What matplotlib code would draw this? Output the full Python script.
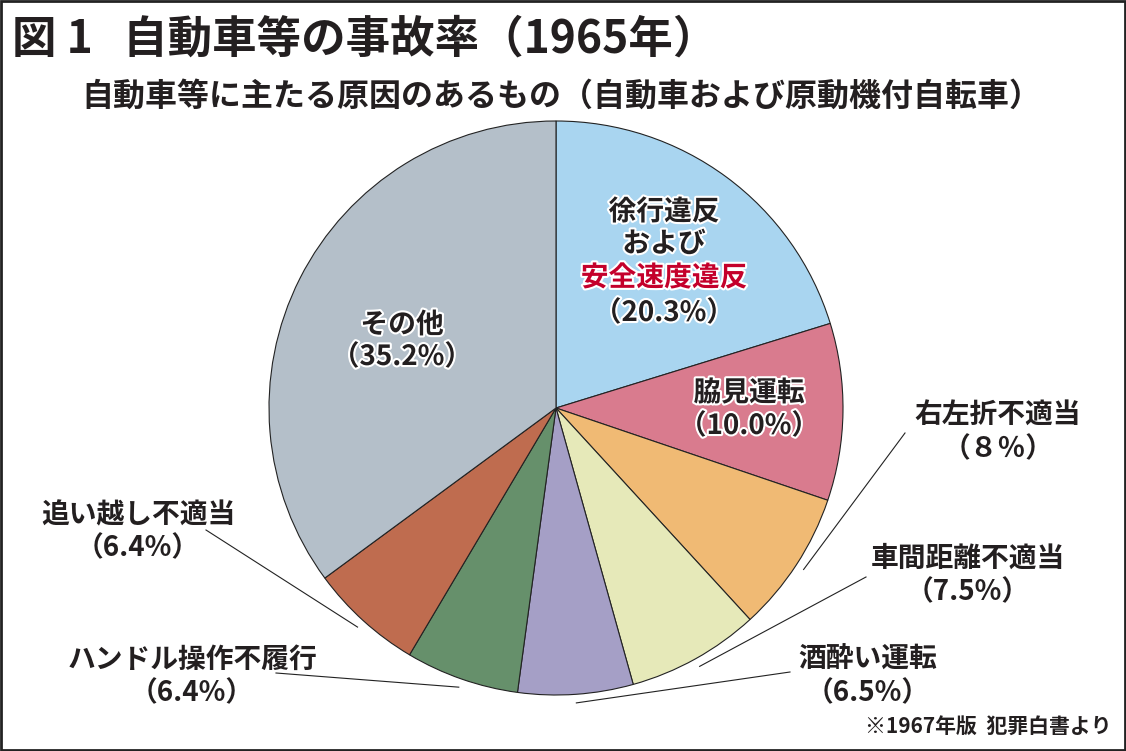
import numpy as np
import matplotlib
matplotlib.use("Agg")
import matplotlib.pyplot as plt
import matplotlib.patheffects as pe
from matplotlib.patches import Rectangle

plt.rcParams['font.family'] = ['Noto Sans CJK JP', 'DejaVu Sans']

# data (clockwise from 12 o'clock)
causes = ["徐行違反および安全速度違反", "脇見運転", "右左折不適当", "車間距離不適当",
          "酒酔い運転", "ハンドル操作不履行", "追い越し不適当", "その他"]
shares = [20.3, 10.0, 8, 7.5, 6.5, 6.4, 6.4, 35.2]
share_text = ["（20.3%）", "（10.0%）", "（８％）", "（7.5%）",
              "（6.5%）", "（6.4%）", "（6.4%）", "（35.2%）"]
colors = ["#a9d5f0", "#d97b8e", "#f0ba74", "#e6e9b9",
          "#a59fc6", "#66906b", "#bf6c4f", "#b4bfc9"]

W, H = 1126, 751
fig = plt.figure(figsize=(W / 100, H / 100), dpi=100)
ax = fig.add_axes([0, 0, 1, 1])

cx, cy, r = 556, H - 408, 287
wedges, _ = ax.pie(shares, colors=colors, startangle=90, counterclock=False,
                   center=(cx, cy), radius=r, frame=True,
                   wedgeprops=dict(edgecolor='#222222', linewidth=0.8))
ax.set_xlim(0, W)
ax.set_ylim(0, H)
ax.set_aspect('equal')
ax.axis('off')

outline = [pe.withStroke(linewidth=3, foreground='white')]
fs = 20


def put(x, y, s, color='#231f20', size=fs, effects=outline):
    ax.text(x, H - y, s, ha='center', va='center', fontsize=size,
            fontweight='bold', color=color, path_effects=effects)


# labels inside slices
put(664, 212, "徐行違反")
put(664, 244, "および")
put(664, 278, "安全速度違反", color='#c4002b')
put(664, 313, share_text[0])
put(749, 393, causes[1])
put(749, 426, share_text[1])
put(402, 325, causes[7])
put(402, 357, share_text[7])

# outside labels with leader lines
outside = {2: (998, 416, 905, 433), 3: (968, 559, 866, 577),
           4: (868, 660, 790, 672), 5: (192, 660, 276, 673),
           6: (138, 515, 206, 530)}
for i, (lx, ly, sx, sy) in outside.items():
    put(lx, ly, causes[i], effects=None)
    put(lx, ly + 33, share_text[i], effects=None)
    w = wedges[i]
    mid = np.deg2rad((w.theta1 + w.theta2) / 2)
    ex = cx + r * 1.03 * np.cos(mid)
    ey = cy + r * 1.03 * np.sin(mid)
    ax.plot([sx, ex], [H - sy, ey], color='#222222', linewidth=0.8)

# titles
ax.text(12, H - 40, "図 1   自動車等の事故率（1965年）", ha='left', va='center',
        fontsize=32, fontweight='bold', color='#231f20')
ax.text(561, H - 97, "自動車等に主たる原因のあるもの（自動車および原動機付自転車）",
        ha='center', va='center', fontsize=23, fontweight='bold', color='#231f20')
ax.text(1112, H - 727, "※1967年版  犯罪白書より", ha='right', va='center',
        fontsize=15, fontweight='bold', color='#231f20')

# frame
ax.add_patch(Rectangle((1, 1), W - 2, H - 2, fill=False, edgecolor='#222222',
                       linewidth=2, clip_on=False))

fig.savefig("out.png", dpi=100)
